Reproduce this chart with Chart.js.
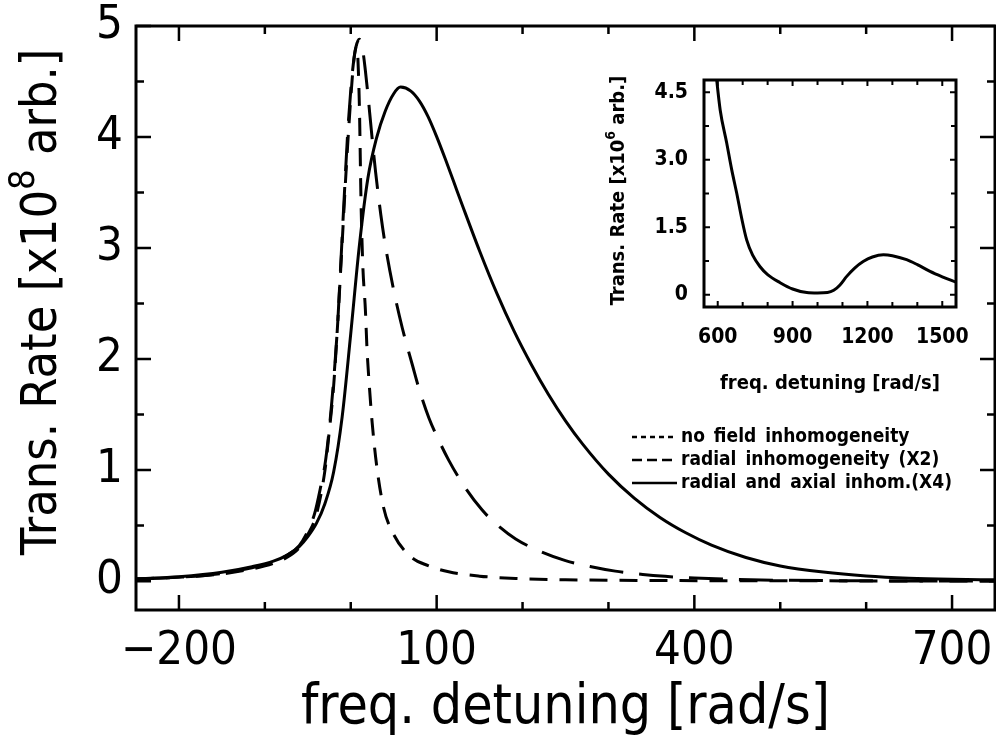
<!DOCTYPE html>
<html>
<head>
<meta charset="utf-8">
<script src="https://cdn.jsdelivr.net/npm/chart.js@4.4.1/dist/chart.umd.min.js"></script>
<style>
  html, body { margin: 0; padding: 0; background: #fff; }
  #wrap { position: relative; width: 996px; height: 745px; overflow: hidden; }
  #main { position: absolute; left: 0; top: 0; }
  #inset { position: absolute; left: 580px; top: 60px; }
</style>
</head>
<body>
<div id="wrap">
  <canvas id="main" width="996" height="745"></canvas>
  <canvas id="inset" width="400" height="345"></canvas>
</div>
<script>
/* ---------- data ---------- */
const noFieldX = [-250, -200, -150, -115, -90, -75, -60, -50, -40, -30, -25, -20, -15, -10, -5, 0, 4, 7, 10, 12, 14, 17, 19, 22, 25, 30, 38, 50, 70, 90, 114, 150, 192, 250, 350, 500, 750];
const noFieldY = [0.02, 0.035, 0.065, 0.11, 0.16, 0.21, 0.30, 0.42, 0.60, 1.00, 1.35, 1.75, 2.35, 3.05, 3.75, 4.35, 4.72, 4.82, 4.30, 3.40, 2.85, 2.45, 2.08, 1.72, 1.42, 1.05, 0.67, 0.42, 0.22, 0.14, 0.084, 0.045, 0.024, 0.012, 0.006, 0.003, 0.001];

const radialX = [-250, -200, -150, -115, -90, -75, -60, -50, -42, -35, -30, -26, -22, -18, -15, -12, -8, -4, 0, 3, 6, 10, 14, 17, 20, 23, 26, 29, 35, 41, 50, 60, 72, 80, 91, 103, 114, 130, 153, 170, 192, 220, 250, 280, 308, 340, 366, 400, 444, 500, 600, 750];
const radialY = [0.02, 0.035, 0.07, 0.12, 0.17, 0.23, 0.32, 0.45, 0.61, 0.85, 1.05, 1.30, 1.62, 2.00, 2.35, 2.80, 3.40, 3.98, 4.42, 4.66, 4.81, 4.88, 4.78, 4.60, 4.38, 4.14, 3.90, 3.68, 3.30, 2.99, 2.62, 2.28, 1.94, 1.72, 1.47, 1.26, 1.09, 0.88, 0.64, 0.51, 0.38, 0.27, 0.185, 0.13, 0.09, 0.06, 0.043, 0.028, 0.016, 0.008, 0.003, 0.001];

const axialX = [-250, -200, -150, -115, -90, -75, -60, -50, -40, -30, -20, -10, 0, 10, 20, 30, 40, 50, 58, 70, 80, 90, 100, 110, 120, 130, 150, 170, 190, 210, 230, 250, 270, 300, 330, 360, 390, 420, 460, 500, 550, 600, 650, 700, 750];
const axialY = [0.02, 0.04, 0.08, 0.13, 0.18, 0.23, 0.31, 0.40, 0.52, 0.70, 0.98, 1.48, 2.23, 3.02, 3.63, 3.99, 4.23, 4.39, 4.45, 4.414, 4.324, 4.184, 4.004, 3.804, 3.594, 3.384, 2.974, 2.594, 2.254, 1.954, 1.684, 1.444, 1.234, 0.964, 0.748, 0.574, 0.436, 0.325, 0.213, 0.137, 0.082, 0.047, 0.027, 0.017, 0.012];

const seriesLabels = ['no field inhomogeneity', 'radial inhomogeneity (X2)', 'radial and axial inhom.(X4)'];

const mainXTicks = [-200, -100, 0, 100, 200, 300, 400, 500, 600, 700];
const mainXLabels = [-200, 100, 400, 700];
const mainYTicks = [0, 0.5, 1, 1.5, 2, 2.5, 3, 3.5, 4, 4.5, 5];
const mainYLabels = [0, 1, 2, 3, 4, 5];

// inset: the tail of the solid curve
const insetX = [585, 596, 610, 636, 656, 676, 696, 716, 740, 769, 800, 850, 900, 957, 1000, 1040, 1065, 1090, 1117, 1150, 1183, 1220, 1264, 1300, 1357, 1400, 1451, 1500, 1555];
const insetY = [5.4, 4.77, 4.10, 3.37, 2.78, 2.26, 1.70, 1.22, 0.88, 0.63, 0.45, 0.27, 0.13, 0.05, 0.04, 0.05, 0.10, 0.22, 0.41, 0.60, 0.74, 0.84, 0.89, 0.87, 0.78, 0.67, 0.52, 0.40, 0.28];

const insetXTicks = [600, 700, 800, 900, 1000, 1100, 1200, 1300, 1400, 1500];
const insetXLabels = [600, 900, 1200, 1500];
const insetYTicks = [0, 0.75, 1.5, 2.25, 3, 3.75, 4.5];
const insetYLabels = [0, 1.5, 3, 4.5];

/* ---------- helpers ---------- */
const NARROW = "'Liberation Sans Narrow', 'DejaVu Sans Condensed', 'Liberation Sans', sans-serif";
const toPoints = (xs, ys) => xs.map((x, i) => ({ x: x, y: ys[i] }));

// box around the plot area with inward tick marks on all four sides
const frameTicks = {
    id: 'frameTicks',
    afterDatasetsDraw(chart, args, o) {
        const { ctx, chartArea: a, scales: { x, y } } = chart;
        ctx.save();
        ctx.strokeStyle = '#000';
        ctx.lineWidth = o.tickWidth;
        ctx.beginPath();
        o.xTicks.forEach(v => {
            const px = x.getPixelForValue(v);
            const len = o.xMajor.includes(v) ? o.major : o.minor;
            ctx.moveTo(px, a.bottom); ctx.lineTo(px, a.bottom - len);
            ctx.moveTo(px, a.top); ctx.lineTo(px, a.top + len);
        });
        o.yTicks.forEach(v => {
            const py = y.getPixelForValue(v);
            const len = o.yMajor.includes(v) ? o.major : o.minor;
            ctx.moveTo(a.left, py); ctx.lineTo(a.left + len, py);
            ctx.moveTo(a.right, py); ctx.lineTo(a.right - len, py);
        });
        ctx.stroke();
        ctx.lineWidth = o.frameWidth;
        ctx.strokeRect(a.left, a.top, a.right - a.left, a.bottom - a.top);
        ctx.restore();
    }
};

// rotated y title with a superscript exponent
const yTitle = {
    id: 'yTitle',
    afterDraw(chart, args, o) {
        const { ctx, chartArea: a } = chart;
        ctx.save();
        ctx.fillStyle = '#000';
        ctx.textBaseline = 'alphabetic';
        ctx.translate(o.x, (a.top + a.bottom) / 2 + o.dy);
        ctx.rotate(-Math.PI / 2);
        ctx.font = o.font;
        const w1 = ctx.measureText(o.pre).width;
        const w3 = ctx.measureText(o.post).width;
        ctx.font = o.supFont;
        const w2 = ctx.measureText(o.sup).width;
        let sx = -(w1 + w2 + w3) / 2;
        ctx.font = o.font;
        ctx.fillText(o.pre, sx, 0);
        ctx.font = o.supFont;
        ctx.fillText(o.sup, sx + w1, -o.rise);
        ctx.font = o.font;
        ctx.fillText(o.post, sx + w1 + w2, 0);
        ctx.restore();
    }
};

// legend drawn inside the plot, to the left of the labels
const legendLines = {
    id: 'legendLines',
    afterDraw(chart, args, o) {
        const ctx = chart.ctx;
        ctx.save();
        ctx.font = o.font;
        if ('wordSpacing' in ctx) ctx.wordSpacing = o.wordSpacing;
        ctx.fillStyle = '#000';
        ctx.strokeStyle = '#000';
        ctx.lineWidth = o.lineWidth;
        ctx.textBaseline = 'middle';
        chart.data.datasets.forEach((ds, i) => {
            const yy = o.top + i * o.rowGap;
            ctx.setLineDash(o.dashes[i]);
            ctx.beginPath();
            ctx.moveTo(o.left, yy);
            ctx.lineTo(o.left + o.sampleLen, yy);
            ctx.stroke();
            ctx.setLineDash([]);
            ctx.fillText(ds.label, o.left + o.sampleLen + o.gap, yy);
        });
        ctx.restore();
    }
};

/* ---------- main chart ---------- */
new Chart(document.getElementById('main'), {
    type: 'line',
    data: {
        datasets: [
            { label: seriesLabels[0], data: toPoints(noFieldX, noFieldY), borderDash: [18, 12] },
            { label: seriesLabels[1], data: toPoints(radialX, radialY), borderDash: [34, 16] },
            { label: seriesLabels[2], data: toPoints(axialX, axialY) }
        ]
    },
    options: {
        responsive: false,
        animation: false,
        layout: { padding: { top: 26, right: 1, left: 0, bottom: 0 } },
        elements: {
            point: { radius: 0 },
            line: { borderWidth: 3, borderColor: '#000', cubicInterpolationMode: 'monotone', fill: false }
        },
        plugins: {
            legend: { display: false },
            tooltip: { enabled: false },
            frameTicks: {
                xTicks: mainXTicks, xMajor: mainXLabels,
                yTicks: mainYTicks, yMajor: mainYLabels,
                major: 15, minor: 8, tickWidth: 2.5, frameWidth: 3
            },
            yTitle: {
                x: 56, dy: -16, pre: 'Trans. Rate [x10', sup: '8', post: ' arb.]',
                font: `50px ${NARROW}`, supFont: `36px ${NARROW}`, rise: 22
            },
            legendLines: {
                left: 632, top: 437, rowGap: 23, sampleLen: 45, gap: 4,
                dashes: [[5, 4], [10, 5], []], lineWidth: 2.5,
                font: `bold 19px ${NARROW}`, wordSpacing: '3px'
            }
        },
        scales: {
            x: {
                type: 'linear', min: -250, max: 750,
                afterBuildTicks: s => { s.ticks = mainXTicks.map(v => ({ value: v })); },
                afterFit: s => { s.height = 135; s.paddingLeft = 0; s.paddingRight = 0; },
                grid: { display: false, drawTicks: false },
                border: { display: false },
                ticks: {
                    autoSkip: false, maxRotation: 0, padding: 14, color: '#000',
                    font: { family: NARROW, size: 47 },
                    callback: v => mainXLabels.includes(v) ? (v < 0 ? '\u2212' + Math.abs(v) : String(v)) : ''
                },
                title: {
                    display: true, text: 'freq. detuning [rad/s]', color: '#000',
                    font: { family: NARROW, size: 55 }, padding: { top: 0, bottom: 3 }
                }
            },
            y: {
                min: -0.26, max: 5,
                afterBuildTicks: s => { s.ticks = mainYTicks.map(v => ({ value: v })); },
                afterFit: s => { s.width = 136; s.paddingTop = 0; s.paddingBottom = 0; },
                grid: { display: false, drawTicks: false },
                border: { display: false },
                ticks: {
                    autoSkip: false, padding: 13, color: '#000',
                    font: { family: NARROW, size: 47 },
                    callback: v => mainYLabels.includes(v) ? String(v) : ''
                }
            }
        }
    },
    plugins: [frameTicks, yTitle, legendLines]
});

/* ---------- inset ---------- */
new Chart(document.getElementById('inset'), {
    type: 'line',
    data: {
        datasets: [
            { label: seriesLabels[2], data: toPoints(insetX, insetY) }
        ]
    },
    options: {
        responsive: false,
        animation: false,
        layout: { padding: { top: 20, right: 24, left: 0, bottom: 0 } },
        elements: {
            point: { radius: 0 },
            line: { borderWidth: 3, borderColor: '#000', cubicInterpolationMode: 'monotone', fill: false }
        },
        plugins: {
            legend: { display: false },
            tooltip: { enabled: false },
            frameTicks: {
                xTicks: insetXTicks, xMajor: insetXLabels,
                yTicks: insetYTicks, yMajor: insetYLabels,
                major: 6, minor: 5, tickWidth: 2, frameWidth: 3
            },
            yTitle: {
                x: 44, dy: -3, pre: 'Trans. Rate [x10', sup: '6', post: ' arb.]',
                font: `bold 20px ${NARROW}`, supFont: `bold 14px ${NARROW}`, rise: 9
            }
        },
        scales: {
            x: {
                type: 'linear', min: 545, max: 1555,
                afterBuildTicks: s => { s.ticks = insetXTicks.map(v => ({ value: v })); },
                afterFit: s => { s.height = 98; s.paddingLeft = 0; s.paddingRight = 0; },
                grid: { display: false, drawTicks: false },
                border: { display: false },
                ticks: {
                    autoSkip: false, maxRotation: 0, padding: 18, color: '#000',
                    font: { family: NARROW, size: 21, weight: 'bold' },
                    callback: v => insetXLabels.includes(v) ? String(v) : ''
                },
                title: {
                    display: true, text: 'freq. detuning [rad/s]', color: '#000',
                    font: { family: NARROW, size: 20, weight: 'bold' }, padding: { top: 0, bottom: 9 }
                }
            },
            y: {
                min: -0.27, max: 4.77,
                afterBuildTicks: s => { s.ticks = insetYTicks.map(v => ({ value: v })); },
                afterFit: s => { s.width = 124; s.paddingTop = 0; s.paddingBottom = 0; },
                grid: { display: false, drawTicks: false },
                border: { display: false },
                ticks: {
                    autoSkip: false, padding: 16, color: '#000',
                    font: { family: NARROW, size: 21, weight: 'bold' },
                    callback: v => insetYLabels.includes(v) ? (v === 0 ? '0' : v.toFixed(1)) : ''
                }
            }
        }
    },
    plugins: [frameTicks, yTitle]
});
</script>
</body>
</html>
